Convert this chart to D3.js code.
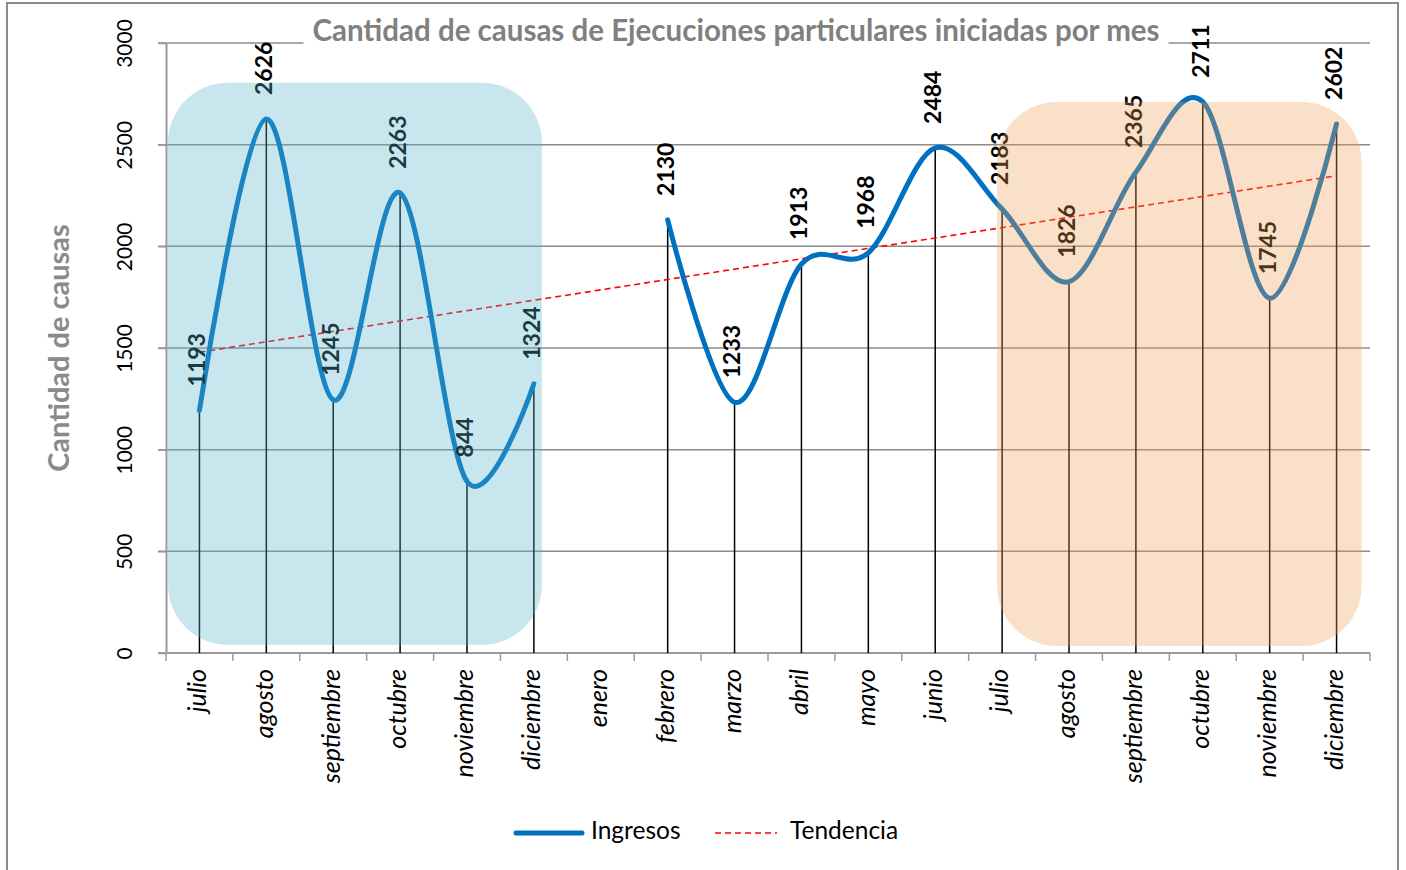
<!DOCTYPE html>
<html>
<head>
<meta charset="utf-8">
<title>Cantidad de causas</title>
<script src="https://cdn.jsdelivr.net/npm/d3@7"></script>
<style>
  body { margin: 0; background: #fff; font-family: Lato, "Open Sans", sans-serif; }
</style>
</head>
<body>
<script>
// Months on the axis (two consecutive years, enero has no value)
const meses = ["julio", "agosto", "septiembre", "octubre", "noviembre", "diciembre",
               "enero", "febrero", "marzo", "abril", "mayo", "junio",
               "julio", "agosto", "septiembre", "octubre", "noviembre", "diciembre"];
const ingresos = [1193, 2626, 1245, 2263, 844, 1324,
                  null, 2130, 1233, 1913, 1968, 2484,
                  2183, 1826, 2365, 2711, 1745, 2602];
const yTicks = [0, 500, 1000, 1500, 2000, 2500, 3000];
// Shaded periods (month index range, value range)
const periodos = [
  { desde: 0, hasta: 5, top: 2805, bottom: 40, fill: "rgb(83,177,202)" },
  { desde: 12, hasta: 17, top: 2710, bottom: 34, fill: "rgb(239,158,83)" }
];

const w = 1406, h = 870;
const margin = { top: 43, right: 36, bottom: 217, left: 166 };

const svg = d3.select("body").append("svg")
  .attr("width", w)
  .attr("height", h);

// Outer border
svg.append("rect")
  .attr("x", 7).attr("y", 3)
  .attr("width", 1391).attr("height", 880)
  .attr("fill", "none")
  .attr("stroke", "#8c8c8c")
  .attr("stroke-width", 2);

const idx = d3.range(meses.length);

const x = d3.scaleBand()
  .domain(idx)
  .range([margin.left, w - margin.right]);

const y = d3.scaleLinear()
  .domain([0, 3000])
  .range([h - margin.bottom, margin.top]);

const cx = i => x(i) + x.bandwidth() / 2;

// Gridlines
svg.append("g")
  .selectAll("line")
  .data(yTicks.filter(d => d > 0))
  .enter().append("line")
  .attr("x1", margin.left - 8)
  .attr("x2", w - margin.right)
  .attr("y1", d => y(d))
  .attr("y2", d => y(d))
  .attr("stroke", "#8c8c8c")
  .attr("stroke-width", 1.5);

// Y axis
const yAxis = svg.append("g")
  .attr("transform", `translate(${margin.left},0)`)
  .call(d3.axisLeft(y).tickValues(yTicks).tickFormat(d3.format("d")).tickSize(8).tickSizeOuter(0));
yAxis.select(".domain").attr("stroke", "#9a9a9a").attr("stroke-width", 2);
yAxis.selectAll(".tick line").attr("stroke", "#9a9a9a").attr("stroke-width", 1.5);
yAxis.selectAll(".tick text")
  .attr("x", 0).attr("dy", 0)
  .attr("transform", d => `translate(-39,0) rotate(-90)`)
  .attr("text-anchor", "middle")
  .attr("dominant-baseline", "middle")
  .style("font-family", "Lato, sans-serif")
  .style("font-size", "21px")
  .attr("fill", "#000");

// X axis, ticks at band edges
const xAxis = svg.append("g")
  .attr("transform", `translate(0,${y(0)})`);
xAxis.append("line")
  .attr("x1", margin.left - 8).attr("x2", w - margin.right)
  .attr("y1", 0).attr("y2", 0)
  .attr("stroke", "#9a9a9a").attr("stroke-width", 2);
xAxis.selectAll(".edge")
  .data(idx.concat([meses.length]))
  .enter().append("line")
  .attr("class", "edge")
  .attr("x1", d => margin.left + d * x.step())
  .attr("x2", d => margin.left + d * x.step())
  .attr("y1", 0).attr("y2", 8)
  .attr("stroke", "#9a9a9a").attr("stroke-width", 1.5);
xAxis.selectAll(".mes")
  .data(idx)
  .enter().append("text")
  .attr("class", "mes")
  .attr("transform", d => `translate(${cx(d)},16) rotate(-90)`)
  .attr("text-anchor", "end")
  .attr("dominant-baseline", "middle")
  .style("font-family", "Lato, sans-serif")
  .style("font-style", "italic")
  .style("font-size", "25px")
  .text(d => meses[d]);

// Y axis title
svg.append("text")
  .attr("transform", `translate(62,${y(1500)}) rotate(-90)`)
  .attr("text-anchor", "middle")
  .attr("dominant-baseline", "middle")
  .style("font-weight", "bold")
  .style("font-size", "29px")
  .attr("fill", "#8a8a8a")
  .text("Cantidad de causas");

const pts = idx.filter(i => ingresos[i] !== null);

// Drop lines
svg.append("g")
  .selectAll("line")
  .data(pts)
  .enter().append("line")
  .attr("x1", d => cx(d)).attr("x2", d => cx(d))
  .attr("y1", d => y(ingresos[d])).attr("y2", y(0))
  .attr("stroke", "#000")
  .attr("stroke-width", 1.5);

// Linear trend (least squares over the months that have a value)
const mx = d3.mean(pts), my = d3.mean(pts, i => ingresos[i]);
const slope = d3.sum(pts, i => (i - mx) * (ingresos[i] - my)) / d3.sum(pts, i => (i - mx) * (i - mx));
const trend = i => my + slope * (i - mx);
const first = pts[0], last = pts[pts.length - 1];
svg.append("line")
  .attr("x1", cx(first)).attr("y1", y(trend(first)))
  .attr("x2", cx(last)).attr("y2", y(trend(last)))
  .attr("stroke", "#ff0000")
  .attr("stroke-width", 1.6)
  .attr("stroke-dasharray", "6,4");

// Ingresos line, smoothed
const line = d3.line()
  .defined(i => ingresos[i] !== null)
  .x(i => cx(i))
  .y(i => y(ingresos[i]))
  .curve(d3.curveCatmullRom.alpha(0));

svg.append("path")
  .datum(idx)
  .attr("d", line)
  .attr("fill", "none")
  .attr("stroke", "#0070c0")
  .attr("stroke-width", 5)
  .attr("stroke-linecap", "round");

// Value labels
svg.append("g")
  .selectAll("text")
  .data(pts)
  .enter().append("text")
  .attr("transform", d => `translate(${cx(d)},${y(ingresos[d]) - 24}) rotate(-90)`)
  .attr("text-anchor", "start")
  .attr("dominant-baseline", "middle")
  .style("font-weight", "bold")
  .style("font-size", "23px")
  .attr("fill", "#000")
  .text(d => ingresos[d]);

// Shaded periods on top
svg.append("g")
  .selectAll("rect")
  .data(periodos)
  .enter().append("rect")
  .attr("x", d => d.desde === 0 ? x(0) + 2 : cx(d.desde) - 5)
  .attr("width", d => (d.desde === 0 ? cx(d.hasta) + 8 : cx(d.hasta) + 25) - (d.desde === 0 ? x(0) + 2 : cx(d.desde) - 5))
  .attr("y", d => y(d.top))
  .attr("height", d => y(d.bottom) - y(d.top))
  .attr("rx", 60).attr("ry", 60)
  .attr("fill", d => d.fill)
  .attr("fill-opacity", 0.32);

// Title with white background over the top gridline
const titulo = svg.append("g");
const tbg = titulo.append("rect").attr("fill", "#fff");
const tt = titulo.append("text")
  .attr("x", 736).attr("y", 41)
  .attr("text-anchor", "middle")
  .style("font-weight", "bold")
  .style("font-size", "29.5px")
  .attr("fill", "#808080")
  .text("Cantidad de causas de Ejecuciones particulares iniciadas por mes");
const tb = tt.node().getBBox();
tbg.attr("x", tb.x - 9).attr("y", tb.y).attr("width", tb.width + 18).attr("height", tb.height + 4);

// Legend
const leg = svg.append("g").attr("transform", "translate(0,833)");
leg.append("line")
  .attr("x1", 516).attr("x2", 582).attr("y1", 0).attr("y2", 0)
  .attr("stroke", "#0070c0").attr("stroke-width", 5).attr("stroke-linecap", "round");
leg.append("text")
  .attr("x", 591).attr("y", 0)
  .attr("dominant-baseline", "middle")
  .style("font-size", "24.5px")
  .text("Ingresos");
leg.append("line")
  .attr("x1", 715).attr("x2", 777).attr("y1", 0).attr("y2", 0)
  .attr("stroke", "#ff0000").attr("stroke-width", 1.6).attr("stroke-dasharray", "6,4");
leg.append("text")
  .attr("x", 790).attr("y", 0)
  .attr("dominant-baseline", "middle")
  .style("font-size", "24.5px")
  .text("Tendencia");
</script>
</body>
</html>
